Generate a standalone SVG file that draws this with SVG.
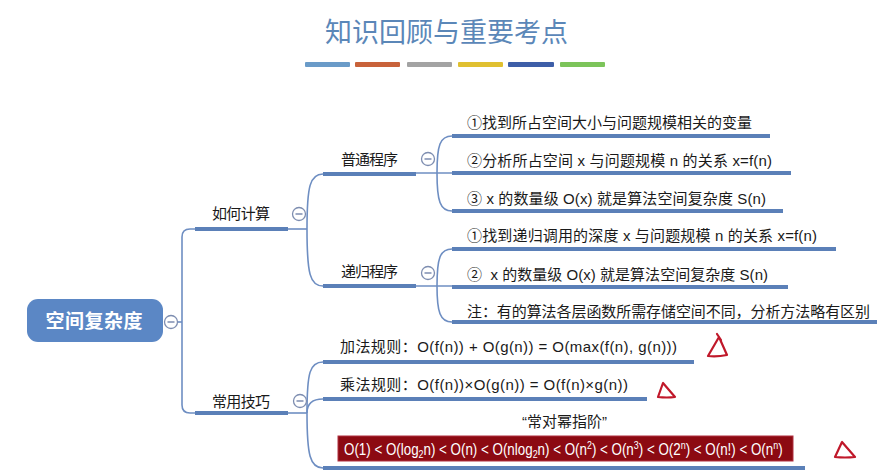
<svg xmlns="http://www.w3.org/2000/svg" width="879" height="472" viewBox="0 0 879 472">
<style>
.t{font-family:"Liberation Sans","Noto Sans CJK SC",sans-serif;font-size:15px;fill:#1a1a1a;white-space:pre}
.ul{stroke:#5b80b8;stroke-width:4;fill:none}
.cn{stroke:#6e8ec2;stroke-width:1.6;fill:none}
.ci{fill:#fff;stroke:#7d8db0;stroke-width:1.3}
.mi{stroke:#7d8db0;stroke-width:1.5}
.tri{fill:none;stroke:#c0182a;stroke-width:2.2;stroke-linejoin:round;stroke-linecap:round}
</style>
<defs>
<g id="col"><circle class="ci" r="6.5"/><line class="mi" x1="-3.5" y1="0" x2="3.5" y2="0"/></g>
</defs>
<rect width="879" height="472" fill="#ffffff"/>
<g id="title">
<text x="446.5" y="42" text-anchor="middle" font-family="Noto Sans CJK SC,sans-serif" font-size="27" fill="#5b87b8" textLength="243">知识回顾与重要考点</text>
<rect x="305" y="62" width="45" height="5" rx="1" fill="#6a9bc8"/>
<rect x="355" y="62" width="45" height="5" rx="1" fill="#c8623a"/>
<rect x="407" y="62" width="45" height="5" rx="1" fill="#a3a3a3"/>
<rect x="458" y="62" width="45" height="5" rx="1" fill="#e0c030"/>
<rect x="508" y="62" width="46" height="5" rx="1" fill="#3d5ea8"/>
<rect x="560" y="62" width="45" height="5" rx="1" fill="#7cc45a"/>
</g>
<g id="connectors">
<path class="cn" d="M177 322 H182"/>
<path class="cn" d="M195 229 H190 Q182 229 182 237 V405 Q182 413 190 413 H195"/>
<path class="cn" d="M288 229 H307"/>
<path class="cn" d="M307 229 C307 186 310 174 323 174"/>
<path class="cn" d="M307 229 C307 274 310 286 323 286"/>
<path class="cn" d="M288 413 H307"/>
<path class="cn" d="M307 413 C307 372 310 362 323 362"/>
<path class="cn" d="M307 413 C307 404 312 399 323 399"/>
<path class="cn" d="M307 413 C307 455 310 468 323 468"/>
<path class="cn" d="M416 173 H452"/>
<path class="cn" d="M437 173 C437 145 440 136 452 136"/>
<path class="cn" d="M437 173 C437 201 440 211 452 211"/>
<path class="cn" d="M416 286 H452"/>
<path class="cn" d="M437 286 C437 258 440 249 452 249"/>
<path class="cn" d="M437 286 C437 312 440 322 452 322"/>
</g>
<g id="root">
<rect x="27" y="299" width="136" height="43" rx="11" fill="#5b87c5"/>
<text x="94" y="328" text-anchor="middle" font-family="Noto Sans CJK SC,sans-serif" font-size="19" font-weight="bold" fill="#fff" textLength="97">空间复杂度</text>
<use href="#col" x="171" y="322"/>
</g>
<g id="n-ruhejisuan">
<path class="ul" d="M195 229 H288"/>
<text class="t" x="212" y="219" textLength="58">如何计算</text>
<use href="#col" x="299" y="214"/>
</g>
<g id="n-putong">
<path class="ul" d="M323 174 H416"/>
<text class="t" x="341" y="165" textLength="57">普通程序</text>
<use href="#col" x="428" y="159"/>
</g>
<g id="n-p1">
<path class="ul" d="M452 136 H770"/>
<text class="t" x="467" y="128" textLength="285">①找到所占空间大小与问题规模相关的变量</text>
</g>
<g id="n-p2">
<path class="ul" d="M452 173 H791"/>
<text class="t" x="467" y="166" textLength="305">②分析所占空间 x 与问题规模 n 的关系 x=f(n)</text>
</g>
<g id="n-p3">
<path class="ul" d="M452 211 H783"/>
<text class="t" x="467" y="204" textLength="299">③ x 的数量级 O(x) 就是算法空间复杂度 S(n)</text>
</g>
<g id="n-digui">
<path class="ul" d="M323 286 H416"/>
<text class="t" x="341" y="277" textLength="57">递归程序</text>
<use href="#col" x="428" y="273"/>
</g>
<g id="n-r1">
<path class="ul" d="M452 249 H836"/>
<text class="t" x="467" y="241" textLength="350">①找到递归调用的深度 x 与问题规模 n 的关系 x=f(n)</text>
</g>
<g id="n-r2">
<path class="ul" d="M452 287 H788"/>
<text class="t" x="467" y="280" textLength="301">②  x 的数量级 O(x) 就是算法空间复杂度 S(n)</text>
</g>
<g id="n-r3">
<path class="ul" d="M452 322 H877"/>
<text class="t" x="467" y="317" textLength="403">注：有的算法各层函数所需存储空间不同，分析方法略有区别</text>
</g>
<g id="n-changyong">
<path class="ul" d="M195 413 H288"/>
<text class="t" x="212" y="407" textLength="58">常用技巧</text>
<use href="#col" x="300" y="401"/>
</g>
<g id="n-add">
<path class="ul" d="M323 362 H694"/>
<text class="t" x="340" y="352" textLength="337">加法规则：O(f(n)) + O(g(n)) = O(max(f(n), g(n)))</text>
</g>
<g id="n-mul">
<path class="ul" d="M323 399 H647"/>
<text class="t" x="340" y="390" textLength="288">乘法规则：O(f(n))×O(g(n)) = O(f(n)×g(n))</text>
</g>
<g id="n-order">
<path class="ul" d="M323 468 H805"/>
<text class="t" x="522" y="427" textLength="85">“常对幂指阶”</text>
<rect x="338" y="436" width="455" height="25" fill="#8c0a12" stroke="#b03040" stroke-width="1"/>
<text class="t" transform="translate(344 454.5) scale(0.81 1)" style="fill:#fff;font-size:16.5px">O(1) &lt; O(log<tspan font-size="11" dy="3">2</tspan><tspan dy="-3">n) &lt; O(n) &lt; O(nlog</tspan><tspan font-size="11" dy="3">2</tspan><tspan dy="-3">n) &lt; O(n</tspan><tspan font-size="11" dy="-6">2</tspan><tspan dy="6">) &lt; O(n</tspan><tspan font-size="11" dy="-6">3</tspan><tspan dy="6">) &lt; O(2</tspan><tspan font-size="11" dy="-6">n</tspan><tspan dy="6">) &lt; O(n!) &lt; O(n</tspan><tspan font-size="11" dy="-6">n</tspan><tspan dy="6">)</tspan></text>
</g>
<g id="marks">
<path class="tri" d="M719 337 L708 356 Q717 357 727 355 Z M717 334 L721 340"/>
<path class="tri" d="M663 383 L658 397 Q667 398 675 397 Z"/>
<path class="tri" d="M842 442 L835 457 Q845 458 855 457 Z"/>
</g>
</svg>
